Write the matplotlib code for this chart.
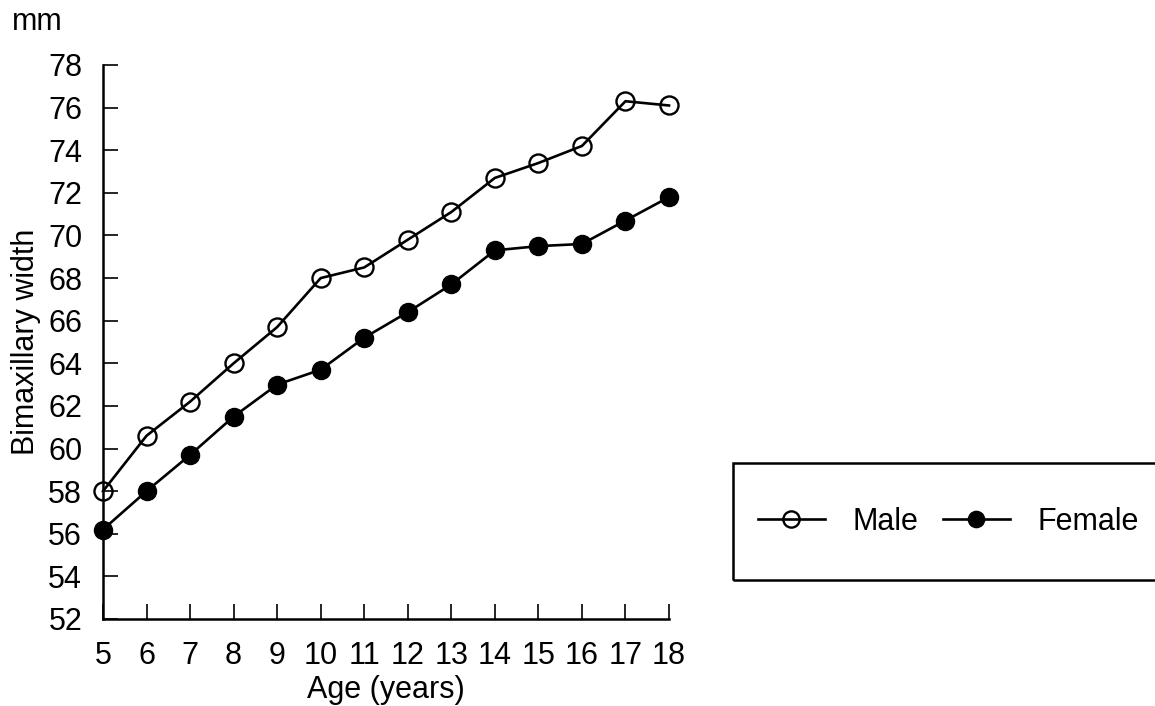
import matplotlib
matplotlib.use("Agg")
import matplotlib.pyplot as plt
from matplotlib.patches import Rectangle

plt.rcParams['font.family'] = ['Liberation Sans', 'DejaVu Sans']

ages = [5, 6, 7, 8, 9, 10, 11, 12, 13, 14, 15, 16, 17, 18]
male = [58.0, 60.6, 62.2, 64.0, 65.7, 68.0, 68.5, 69.8, 71.1, 72.7, 73.4, 74.2, 76.3, 76.1]
female = [56.2, 58.0, 59.7, 61.5, 63.0, 63.7, 65.2, 66.4, 67.7, 69.3, 69.5, 69.6, 70.7, 71.8]
yticks = list(range(52, 79, 2))

fs = 22
fig = plt.figure(figsize=(11.55, 7.06), dpi=100)
ax = fig.add_axes([103/1155, 1 - 619/706, (669 - 103)/1155, (619 - 65)/706])

lm, = ax.plot(ages, male, color='black', lw=1.9, marker='o', ms=13,
              mfc='none', mec='black', mew=1.7, clip_on=False, label='Male')
lf, = ax.plot(ages, female, color='black', lw=1.9, marker='o', ms=13,
              mfc='black', mec='black', clip_on=False, label='Female')

ax.set_xlim(5, 18)
ax.set_ylim(52, 78)
ax.set_xticks(ages)
ax.set_yticks(yticks)
for s in ['top', 'right']:
    ax.spines[s].set_visible(False)
for s in ['left', 'bottom']:
    ax.spines[s].set_linewidth(1.8)
ax.tick_params(axis='both', direction='in', length=11, width=1.2, labelsize=fs)
ax.tick_params(axis='y', pad=15)
ax.tick_params(axis='x', pad=16)

ax.set_xlabel('Age (years)', fontsize=fs, labelpad=3)
ax.set_ylabel('Bimaxillary width', fontsize=fs, labelpad=5)
fig.text(12/1155, 1 - 22/706, 'mm', fontsize=fs, va='center', ha='left')

# legend box running off the right edge
fig.patches.append(Rectangle((733/1155, 1 - 580/706), 0.5, 117/706,
                             transform=fig.transFigure, fill=False,
                             ec='black', lw=1.8))
ax.legend(handles=[lm, lf], loc='center left', frameon=False, ncol=2,
          bbox_to_anchor=(730/1155, 1 - 522/706), bbox_transform=fig.transFigure,
          fontsize=fs, handlelength=2.2, handletextpad=0.9, columnspacing=0.8,
          markerscale=0.9)

fig.savefig('out.png', dpi=100)
